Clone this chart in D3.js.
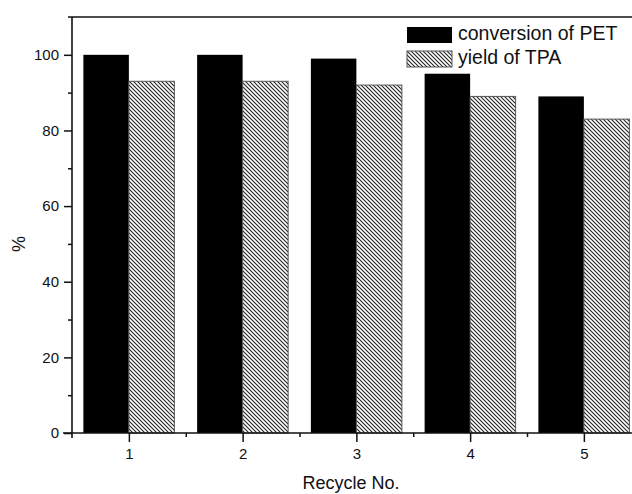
<!DOCTYPE html>
<html lang="en">
<head>
    <title>Recycle chart</title>
    <script src="https://d3js.org/d3.v7.min.js"></script>
    <style>
        body { margin: 0; background: #fff; }
        text { font-family: "Liberation Sans", Arial, sans-serif; fill: #111; }
    </style>
</head>
<body>
<script>
    // data
    const cycles = [1, 2, 3, 4, 5];
    const conversionPET = [100, 100, 99, 95, 89];
    const yieldTPA = [93, 93, 92, 89, 83];
    const seriesNames = ["conversion of PET", "yield of TPA"];
    const yTicks = [0, 20, 40, 60, 80, 100];

    const W = 632, H = 494;
    const plotLeft = 72, plotTop = 17, plotBottom = 433;

    const svg = d3.select("body").append("svg")
        .attr("width", W).attr("height", H);

    // hatch pattern for the yield bars
    const defs = svg.append("defs");
    const pat = defs.append("pattern")
        .attr("id", "hatch")
        .attr("patternUnits", "userSpaceOnUse")
        .attr("width", 4).attr("height", 4);
    pat.append("rect").attr("width", 4).attr("height", 4).attr("fill", "#fff");
    pat.append("path")
        .attr("d", "M0,0 L4,4 M-1,3 L1,5 M3,-1 L5,1")
        .attr("stroke", "#222").attr("stroke-width", 1.1);

    // scales
    const x = d3.scaleLinear().domain([0.5, 5.5]).range([plotLeft, plotLeft + 5 * 113.75]);
    const y = d3.scaleLinear().domain([0, 110]).range([plotBottom, plotTop]);
    const barW = x(1.4) - x(1);

    // bars
    svg.append("g").selectAll("rect")
        .data(cycles)
        .join("rect")
        .attr("x", (d) => x(d) - barW)
        .attr("y", (d, i) => y(conversionPET[i]))
        .attr("width", barW)
        .attr("height", (d, i) => y(0) - y(conversionPET[i]))
        .attr("fill", "#000");

    svg.append("g").selectAll("rect")
        .data(cycles)
        .join("rect")
        .attr("x", (d) => x(d))
        .attr("y", (d, i) => y(yieldTPA[i]))
        .attr("width", barW)
        .attr("height", (d, i) => y(0) - y(yieldTPA[i]))
        .attr("fill", "url(#hatch)")
        .attr("stroke", "#555").attr("stroke-width", 1);

    // y axis: major and minor ticks
    const yAxis = svg.append("g").attr("transform", "translate(" + plotLeft + ",0)");
    yAxis.call(d3.axisLeft(y).tickValues(yTicks).tickSize(8).tickPadding(5));
    const yMinor = svg.append("g").attr("transform", "translate(" + plotLeft + ",0)");
    yMinor.call(d3.axisLeft(y).tickValues(d3.range(10, 110, 20)).tickSize(4).tickFormat(""));

    // x axis
    const xAxis = svg.append("g").attr("transform", "translate(0," + plotBottom + ")");
    xAxis.call(d3.axisBottom(x).tickValues(cycles).tickSize(9).tickPadding(6).tickFormat(d3.format("d")));
    const xMinor = svg.append("g").attr("transform", "translate(0," + plotBottom + ")");
    xMinor.call(d3.axisBottom(x).tickValues(d3.range(1.5, 5.5, 1)).tickSize(4).tickFormat(""));

    svg.selectAll(".domain").remove();
    svg.selectAll(".tick line").attr("stroke", "#111").attr("stroke-width", 1.5);
    svg.selectAll(".tick text").style("font-size", "15px").style("font-family", "Liberation Sans, Arial, sans-serif").attr("fill", "#111");

    // axis lines and top frame
    svg.append("line").attr("x1", plotLeft).attr("x2", plotLeft).attr("y1", plotTop).attr("y2", plotBottom + 5)
        .attr("stroke", "#111").attr("stroke-width", 1.6);
    svg.append("line").attr("x1", plotLeft - 9).attr("x2", W).attr("y1", plotBottom).attr("y2", plotBottom)
        .attr("stroke", "#111").attr("stroke-width", 1.6);
    svg.append("line").attr("x1", plotLeft - 4).attr("x2", W).attr("y1", plotTop).attr("y2", plotTop)
        .attr("stroke", "#111").attr("stroke-width", 1.6);

    // axis titles
    svg.append("text")
        .attr("x", 351).attr("y", 489)
        .attr("text-anchor", "middle")
        .style("font-size", "18px")
        .text("Recycle No.");

    svg.append("text")
        .attr("transform", "translate(25," + y(50) + ") rotate(-90)")
        .attr("text-anchor", "middle")
        .style("font-size", "18px")
        .text("%");

    // legend
    const legend = svg.append("g").attr("transform", "translate(407,27)");
    legend.append("rect").attr("width", 45).attr("height", 16).attr("fill", "#000");
    legend.append("rect").attr("y", 24).attr("width", 45).attr("height", 16)
        .attr("fill", "url(#hatch)").attr("stroke", "#555").attr("stroke-width", 1);
    legend.selectAll("text.lg")
        .data(seriesNames)
        .join("text")
        .attr("class", "lg")
        .attr("x", 51)
        .attr("y", (d, i) => 13 + i * 24)
        .style("font-size", "19.5px")
        .text((d) => d);
</script>
</body>
</html>
